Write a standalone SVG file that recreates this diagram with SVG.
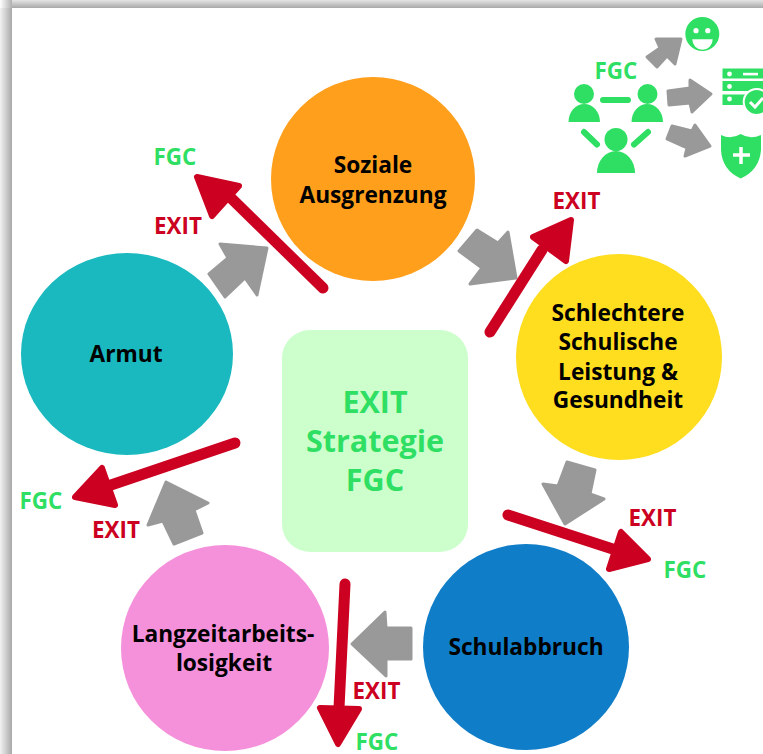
<svg xmlns="http://www.w3.org/2000/svg" width="763" height="754" viewBox="0 0 763 754">
<defs>
<linearGradient id="sT" x1="0" y1="0" x2="0" y2="1"><stop offset="0" stop-color="#e4e4e4"/><stop offset="1" stop-color="#a8a8a8"/></linearGradient>
<linearGradient id="sL" x1="0" y1="0" x2="1" y2="0"><stop offset="0" stop-color="#f2f2f2"/><stop offset="1" stop-color="#a8a8a8"/></linearGradient>
<linearGradient id="sC" x1="0" y1="0" x2="1" y2="0"><stop offset="0" stop-color="#fff"/><stop offset="1" stop-color="#b0b0b0"/></linearGradient>
</defs>
<style>
text{font-family:"Open Sans","Liberation Sans",sans-serif;font-weight:700}
.n{font-size:22.7px;fill:#000;text-anchor:middle}
.f{font-size:22.400px;fill:#2fdf63}
.x{font-size:22.400px;fill:#cc0020}
.c{font-size:30.500px;fill:#2fdf63;text-anchor:middle}
.g{fill:#999;stroke:#999;stroke-width:3;stroke-linejoin:round}
.rl{stroke:#cc0020;stroke-width:11;stroke-linecap:round;fill:none}
.rh{fill:#cc0020;stroke:#cc0020;stroke-width:6;stroke-linejoin:round}
.i{fill:#2fdf63}
.il{stroke:#2fdf63;stroke-width:6;stroke-linecap:round;fill:none}
</style>
<rect width="763" height="754" fill="#fff"/>
<g id="shadow">
<rect x="12" y="0" width="751" height="8" fill="url(#sT)"/>
<rect x="0" y="8" width="12" height="746" fill="url(#sL)"/>
<rect x="0" y="0" width="12" height="8" fill="url(#sC)"/>
</g>
<g id="center"><rect x="282" y="330" width="186" height="222" rx="28" fill="#ccffcc"/>
<text class="c" x="375" y="413">EXIT</text><text class="c" x="375" y="452">Strategie</text><text class="c" x="375" y="491">FGC</text></g>
<g id="node-soziale"><circle cx="373" cy="179" r="102" fill="#ff9f1c"/><text class="n" x="373" y="173">Soziale</text><text class="n" x="373" y="203">Ausgrenzung</text></g>
<g id="node-schule"><circle cx="619" cy="357" r="103" fill="#ffdd1f"/><text class="n" x="618" y="321">Schlechtere</text><text class="n" x="618" y="350">Schulische</text><text class="n" x="618" y="380">Leistung &amp;</text><text class="n" x="618" y="408">Gesundheit</text></g>
<g id="node-abbruch"><circle cx="526" cy="647" r="103" fill="#0f7dc8"/><text class="n" x="526" y="655">Schulabbruch</text></g>
<g id="node-langzeit"><ellipse cx="225" cy="648" rx="104" ry="103" fill="#f590da"/><text class="n" x="223" y="642">Langzeitarbeits-</text><text class="n" x="224" y="671">losigkeit</text></g>
<g id="node-armut"><ellipse cx="127" cy="354" rx="106" ry="101" fill="#19b9bf"/><text class="n" x="126" y="362">Armut</text></g>
<g id="connectors">
<polygon class="g" points="220,244 267,248 257,295 245,278 225,297 209,274 228,258"/>
<polygon class="g" points="516,278 470,284 482,268 459,251 477,230 498,243 508,232"/>
<polygon class="g" points="565,524 543,484 558,486 567,462 595,470 590,494 604,499"/>
<polygon class="g" points="352,644 385,612 386,628 411,628 411,659 386,659 386,676"/>
<polygon class="g" points="166,482 208,503 194,510 202,533 174,544 163,521 148,525"/>
<path class="rl" d="M323,288L230,197"/><polygon class="rh" points="197,177 239,186 212,216"/>
<path class="rl" d="M490,332L542,250"/><polygon class="rh" points="571,220 533,237 566,261"/>
<path class="rl" d="M508,515L622,552"/><polygon class="rh" points="648,559 621,532 609,569"/>
<path class="rl" d="M345,584L339,708"/><polygon class="rh" points="338,744 320,708 359,709"/>
<path class="rl" d="M235,443L108,486"/><polygon class="rh" points="75,497 102,468 115,505"/>
</g>
<g id="labels">
<text class="f" x="153.500" y="165">FGC</text><text class="x" x="154" y="234">EXIT</text>
<text class="x" x="552.500" y="209">EXIT</text>
<text class="x" x="628.500" y="526">EXIT</text><text class="f" x="663.500" y="578">FGC</text>
<text class="x" x="352.500" y="699">EXIT</text><text class="f" x="355.500" y="750">FGC</text>
<text class="f" x="19.500" y="509">FGC</text><text class="x" x="92" y="538">EXIT</text>
</g>
<g id="icon-fgc">
<text class="f" x="594.500" y="78.500">FGC</text>
<circle class="i" cx="584" cy="94" r="10"/><path class="i" d="M568.500,122a15.700,18 0 0 1 31.500,0z"/>
<circle class="i" cx="647.500" cy="94" r="10"/><path class="i" d="M631.500,122a15.700,18 0 0 1 31.500,0z"/>
<circle class="i" cx="616" cy="139.500" r="11.500"/><path class="i" d="M597,173a19,22 0 0 1 38,0z"/>
<path class="il" d="M603,100H628M584,132L597,144.500M648,132L634,144.500"/>
<polygon class="g" points="681,39 656,39 660,48 647,57 657,67 667,56 675,64"/>
<polygon class="g" points="711,94 690,80 690,88 668,91 669,105 690,103 692,112"/>
<polygon class="g" points="710,146 695,125 692,131 672,126 667,139 687,148 685,156"/>
</g>
<g id="icon-smile"><circle class="i" cx="702.300" cy="34" r="17"/><circle cx="696" cy="30.700" r="2.600" fill="#fff"/><circle cx="707.800" cy="30.700" r="2.600" fill="#fff"/><path d="M692.300,39.300H712.700A10.200,10.500 0 0 1 692.300,39.300z" fill="#fff"/></g>
<g id="icon-server"><rect class="i" x="722.500" y="68.500" width="40.500" height="10"/><rect class="i" x="722.500" y="81" width="40.500" height="10"/><rect class="i" x="722.500" y="94.500" width="40.500" height="10.500"/>
<g fill="#fff"><circle cx="729.500" cy="74" r="2.400"/><circle cx="729.500" cy="86.500" r="2.400"/><circle cx="729.500" cy="99" r="2.400"/><rect x="743" y="72.800" width="15" height="2.600"/></g>
<circle class="i" cx="756.700" cy="102" r="13" stroke="#fff" stroke-width="2"/><path d="M750,102l5,5l8,-9" fill="none" stroke="#fff" stroke-width="3"/></g>
<g id="icon-shield"><path class="i" d="M740.700,134Q731,140 721,135V150Q722,170 740.700,178.500Q759.500,170 761,150V135Q750,140 740.700,134z"/><path d="M741,147V164M733,155H750" stroke="#fff" stroke-width="3.500" fill="none"/></g>
</svg>
